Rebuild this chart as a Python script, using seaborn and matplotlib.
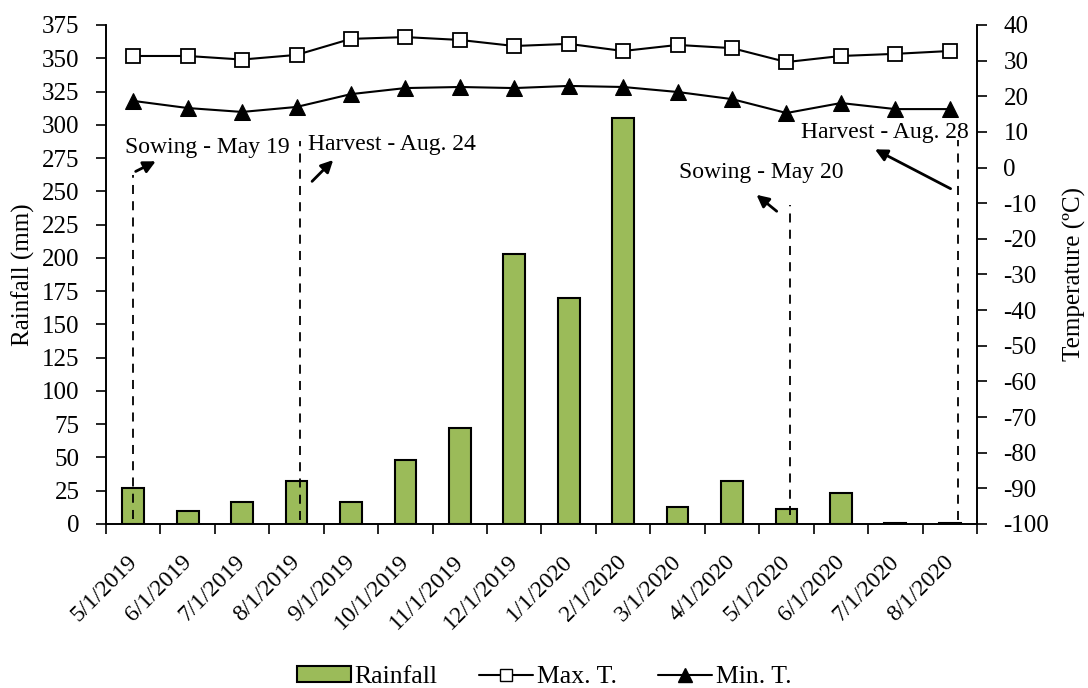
import numpy as np
import pandas as pd
import matplotlib
matplotlib.use("Agg")
import matplotlib.pyplot as plt
import matplotlib.transforms as mtransforms
import seaborn as sns
from matplotlib.lines import Line2D
from matplotlib.patches import Patch

months = ["5/1/2019", "6/1/2019", "7/1/2019", "8/1/2019", "9/1/2019", "10/1/2019",
          "11/1/2019", "12/1/2019", "1/1/2020", "2/1/2020", "3/1/2020", "4/1/2020",
          "5/1/2020", "6/1/2020", "7/1/2020", "8/1/2020"]
rainfall = [27, 10, 16.5, 32, 16.5, 48, 72, 203, 170, 305, 13, 32.5, 11, 23, 0.5, 1]
max_t = [31.3, 31.3, 30.3, 31.6, 36.1, 36.6, 35.8, 34.1, 34.7, 32.7, 34.4, 33.5, 29.6, 31.3, 31.9, 32.7]
min_t = [18.7, 16.7, 15.6, 17.0, 20.6, 22.3, 22.6, 22.3, 22.9, 22.6, 21.2, 19.2, 15.3, 18.1, 16.4, 16.4]

# annotation labels (event, x position in category units)
event_labels = ["Sowing - May 19", "Harvest - Aug. 24", "Sowing - May 20", "Harvest - Aug. 28"]
event_x = [0.0, 3.07, 12.06, 15.15]

sns.set_theme(style="white")
plt.rcParams['font.family'] = ['Liberation Serif', 'DejaVu Serif']
plt.rcParams['axes.unicode_minus'] = False
plt.rcParams['text.color'] = 'black'
plt.rcParams['axes.labelcolor'] = 'black'
plt.rcParams['xtick.color'] = 'black'
plt.rcParams['ytick.color'] = 'black'

FS = 18
fig = plt.figure(figsize=(10.88, 6.88), dpi=100)
ax = fig.add_axes([0.0974, 0.2384, 0.8006, 0.7253])

df = pd.DataFrame({"month": months, "Rainfall": rainfall, "Max. T.": max_t, "Min. T.": min_t})
df["pos"] = np.arange(len(months))

sns.barplot(data=df, x="month", y="Rainfall", ax=ax, color="#9BBB59", width=0.4,
            edgecolor="black", linewidth=1.5, saturation=1)
ax.set_ylim(0, 375)
ax.set_xlim(-0.5, len(months) - 0.5)
ax.set_yticks(np.arange(0, 376, 25))
ax.set_ylabel("Rainfall (mm)", fontsize=FS, labelpad=5)
ax.set_xlabel("")
ax.set_xticks(np.arange(len(months)))
ax.set_xticklabels(months, rotation=45, ha="right", rotation_mode="anchor", fontsize=17)
ax.tick_params(axis="x", which="major", length=0, pad=16)
offset = mtransforms.ScaledTranslation(-7 / 100, -5 / 100, fig.dpi_scale_trans)
for lbl in ax.get_xticklabels():
    lbl.set_transform(lbl.get_transform() + offset)
ax.set_xticks(np.arange(-0.5, len(months)), minor=True)
ax.tick_params(axis="x", which="minor", length=7, width=1.2, color="black", direction="out", bottom=True)
ax.tick_params(axis="y", length=7, width=1.2, color="black", direction="out", left=True,
               labelsize=FS, pad=12)

ax2 = ax.twinx()
sns.lineplot(data=df, x="pos", y="Max. T.", ax=ax2, color="black", linewidth=1.5,
             marker="s", markersize=9.5, markerfacecolor="white", markeredgecolor="black",
             markeredgewidth=1.3)
sns.lineplot(data=df, x="pos", y="Min. T.", ax=ax2, color="black", linewidth=1.5,
             marker="^", markersize=11, markerfacecolor="black", markeredgecolor="black")
ax2.set_ylim(-100, 40)
ax2.set_yticks(np.arange(-100, 41, 10))
ax2.set_ylabel("Temperature (ºC)", fontsize=FS, labelpad=10)
ax2.set_xlabel("")
ax2.set_xlim(-0.5, len(months) - 0.5)
ax2.tick_params(axis="y", length=7, width=1.2, color="black", direction="out", right=True,
                labelsize=FS, pad=12)

for a in (ax, ax2):
    a.spines["top"].set_visible(False)
    for s in ("left", "right", "bottom"):
        a.spines[s].set_color("black")
        a.spines[s].set_linewidth(1.2)

# event annotations (on rainfall axis)
dash_kw = dict(color="black", linestyle=(0, (5, 4)), linewidth=1.3)
arrow_kw = dict(arrowstyle="-|>", color="black", lw=2, mutation_scale=18)
AFS = 17
# Sowing May 19
ax.plot([event_x[0], event_x[0]], [4, 262], **dash_kw)
ax.annotate("", xy=(0.46, 273.5), xytext=(event_x[0], 264),
            arrowprops=arrow_kw)
ax.text(-0.15, 283, event_labels[0], ha="left", va="center", fontsize=AFS)
# Harvest Aug 24
ax.plot([event_x[1], event_x[1]], [3, 288], **dash_kw)
ax.annotate("", xy=(3.71, 275), xytext=(3.25, 256), arrowprops=arrow_kw)
ax.text(3.22, 285, event_labels[1], ha="left", va="center", fontsize=AFS)
# Sowing May 20
ax.plot([event_x[2], event_x[2]], [7, 240], **dash_kw)
ax.annotate("", xy=(11.41, 248.7), xytext=(11.86, 233.7), arrowprops=arrow_kw)
ax.text(10.02, 264.5, event_labels[2], ha="left", va="center", fontsize=AFS)
# Harvest Aug 28
ax.plot([event_x[3], event_x[3]], [3, 288.5], **dash_kw)
ax.annotate("", xy=(13.58, 282.5), xytext=(15.06, 251), arrowprops=arrow_kw)
ax.text(15.35, 294.5, event_labels[3], ha="right", va="center", fontsize=AFS)

handles = [Patch(facecolor="#9BBB59", edgecolor="black", linewidth=1.5, label="Rainfall"),
           Line2D([], [], color="black", lw=1.5, marker="s", markersize=9,
                  markerfacecolor="white", markeredgecolor="black", label="Max. T."),
           Line2D([], [], color="black", lw=1.5, marker="^", markersize=10,
                  markerfacecolor="black", label="Min. T.")]
fig.legend(handles=handles, loc="center", bbox_to_anchor=(0.5, 1 - 677 / 688), ncol=3,
           frameon=False, fontsize=18.5, handlelength=2.1, handleheight=0.55,
           handletextpad=0.15, columnspacing=1.6)

fig.savefig("out.png", dpi=100)
